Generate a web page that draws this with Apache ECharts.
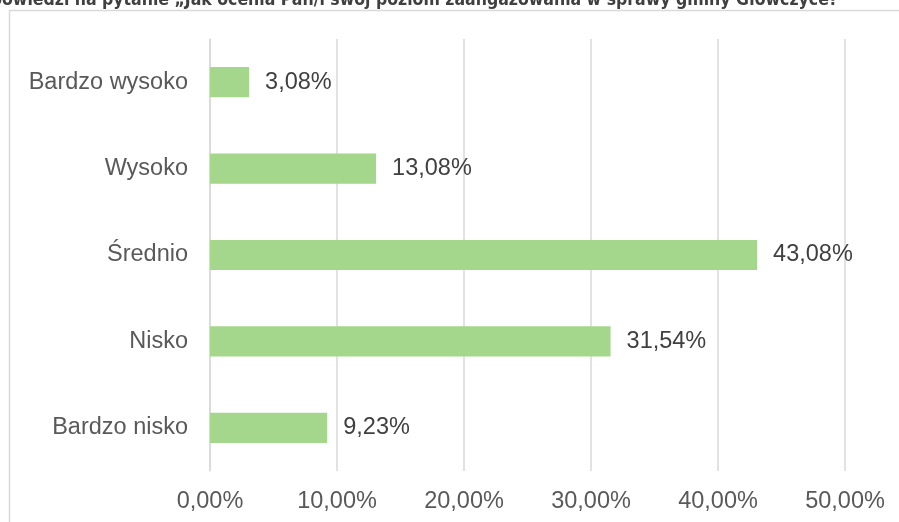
<!DOCTYPE html>
<html>
<head>
<meta charset="utf-8">
<script src="https://cdn.jsdelivr.net/npm/echarts@6/dist/echarts.min.js"></script>
<style>html,body{margin:0;padding:0;background:#fff}#c{width:899px;height:522px}</style>
</head>
<body>
<div id="c"></div>
<script>
const categories = ["Bardzo wysoko", "Wysoko", "Średnio", "Nisko", "Bardzo nisko"];
const values = [3.08, 13.08, 43.08, 31.54, 9.23];
const titleText = "Rozkład odpowiedzi na pytanie „Jak ocenia Pan/i swój poziom zaangażowania w sprawy gminy Główczyce?";

const chart = echarts.init(document.getElementById('c'));
const fmt = v => v.toFixed(2).replace('.', ',') + '%';
const FONT = 'Liberation Sans, Arial, sans-serif';
chart.setOption({
  animation: false,
  graphic: [
    {type: 'rect', shape: {x: 9.5, y: 10.5, width: 1000, height: 1000}, style: {fill: 'none', stroke: '#d9d9d9', lineWidth: 1.5}, z: -1},
    {type: 'text', x: 838, y: 9, style: {text: titleText, fill: '#404040', font: 'bold 17.5px "Liberation Sans Narrow", "DejaVu Sans Condensed", sans-serif', textAlign: 'right', textVerticalAlign: 'bottom'}}
  ],
  grid: {left: 210, right: 54, top: 39, bottom: 51, containLabel: false},
  xAxis: {
    type: 'value', min: 0, max: 50, interval: 10,
    axisLine: {show: false}, axisTick: {show: false},
    splitLine: {lineStyle: {color: '#d9d9d9', width: 1.5}},
    axisLabel: {formatter: v => fmt(v), color: '#595959', fontSize: 23.5, fontFamily: FONT, margin: 19}
  },
  yAxis: {
    type: 'category', data: categories, inverse: true,
    axisLine: {show: true, lineStyle: {color: '#d9d9d9', width: 1.5}}, axisTick: {show: false},
    axisLabel: {color: '#595959', fontSize: 23.5, fontFamily: FONT, margin: 22}
  },
  series: [{
    type: 'bar', data: values, barWidth: '35%',
    itemStyle: {color: '#a4d78c'},
    label: {show: true, position: 'right', distance: 16, formatter: p => fmt(p.value), color: '#404040', fontSize: 23.5, fontFamily: FONT}
  }]
});
</script>
</body>
</html>
